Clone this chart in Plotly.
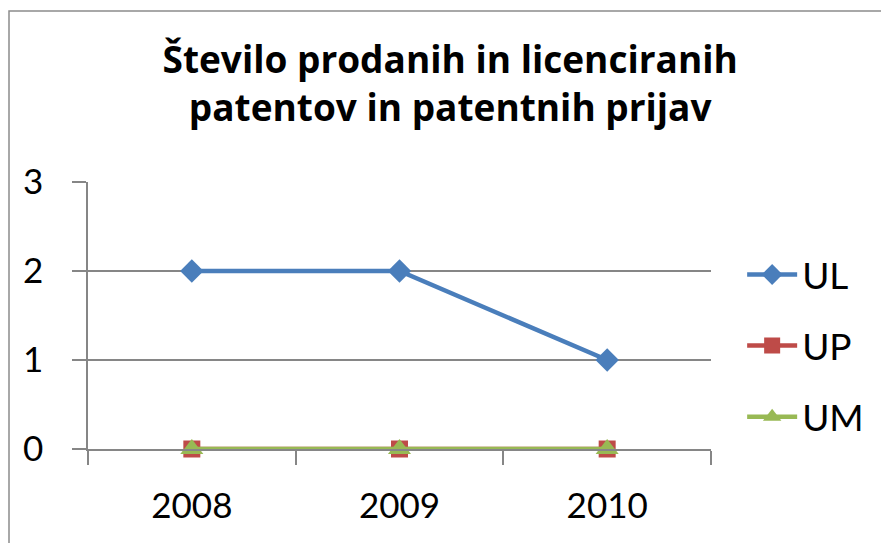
import plotly.graph_objects as go

years = ["2008", "2009", "2010"]
ul = [2, 2, 1]
up = [0, 0, 0]
um = [0, 0, 0]
y_ticks = [0, 1, 2, 3]

FONT = "Lato"
GRID = "#868686"

fig = go.Figure()
fig.add_trace(go.Scatter(x=years, y=ul, name="UL", mode="lines+markers",
                         line=dict(color="#4A7EBB", width=4.5),
                         marker=dict(symbol="diamond", size=18, color="#4A7EBB"),
                         cliponaxis=False, legendgroup="a"))
fig.add_trace(go.Scatter(x=years, y=up, name="UP", mode="lines+markers",
                         line=dict(color="#BE4B48", width=4.5),
                         marker=dict(symbol="square", size=17, color="#BE4B48"),
                         cliponaxis=False, legendgroup="b"))
fig.add_trace(go.Scatter(x=years, y=um, name="UM", mode="lines+markers",
                         line=dict(color="#98B954", width=4.5),
                         marker=dict(symbol="triangle-up", size=20, color="#98B954"),
                         cliponaxis=False, legendgroup="c"))

fig.update_layout(
    width=881, height=543,
    margin=dict(l=88, r=170, t=182, b=94),
    paper_bgcolor="white", plot_bgcolor="white",
    font=dict(family=FONT, color="black", size=35),
    title=dict(text="<b>Število prodanih in licenciranih<br>patentov in patentnih prijav</b>",
               x=0.511, xanchor="center", y=0.866, yanchor="top",
               font=dict(family="Open Sans", size=37, color="black")),
    xaxis=dict(type="category", range=[-0.5, 2.5], showgrid=False,
               showline=True, linecolor=GRID, linewidth=1.5,
               ticks="outside", tickson="boundaries", ticklen=14, tickcolor=GRID,
               tickwidth=1.5, ticklabelstandoff=25, tickfont=dict(size=35)),
    yaxis=dict(range=[0, 3], tickvals=y_ticks, showgrid=True, gridcolor=GRID,
               gridwidth=1.5, showline=True, linecolor=GRID, linewidth=1.5,
               ticks="outside", ticklen=14, tickcolor=GRID, tickwidth=1.5,
               ticklabelstandoff=22, zeroline=False, tickfont=dict(size=35)),
    legend=dict(x=1.05, xanchor="left", y=0.386, yanchor="middle",
                font=dict(size=37), itemwidth=50, tracegroupgap=20,
                bgcolor="rgba(0,0,0,0)"),
    showlegend=True,
    shapes=[dict(type="rect", xref="paper", yref="paper",
                 xsizemode="pixel", ysizemode="pixel",
                 xanchor=0, yanchor=1,
                 x0=-79, x1=1200, y0=171, y1=-800,
                 line=dict(color="#8C8C8C", width=1.5), layer="below")],
)

fig.write_html("out.html", config={"displayModeBar": False},
               post_script="document.body.style.margin='0';")
